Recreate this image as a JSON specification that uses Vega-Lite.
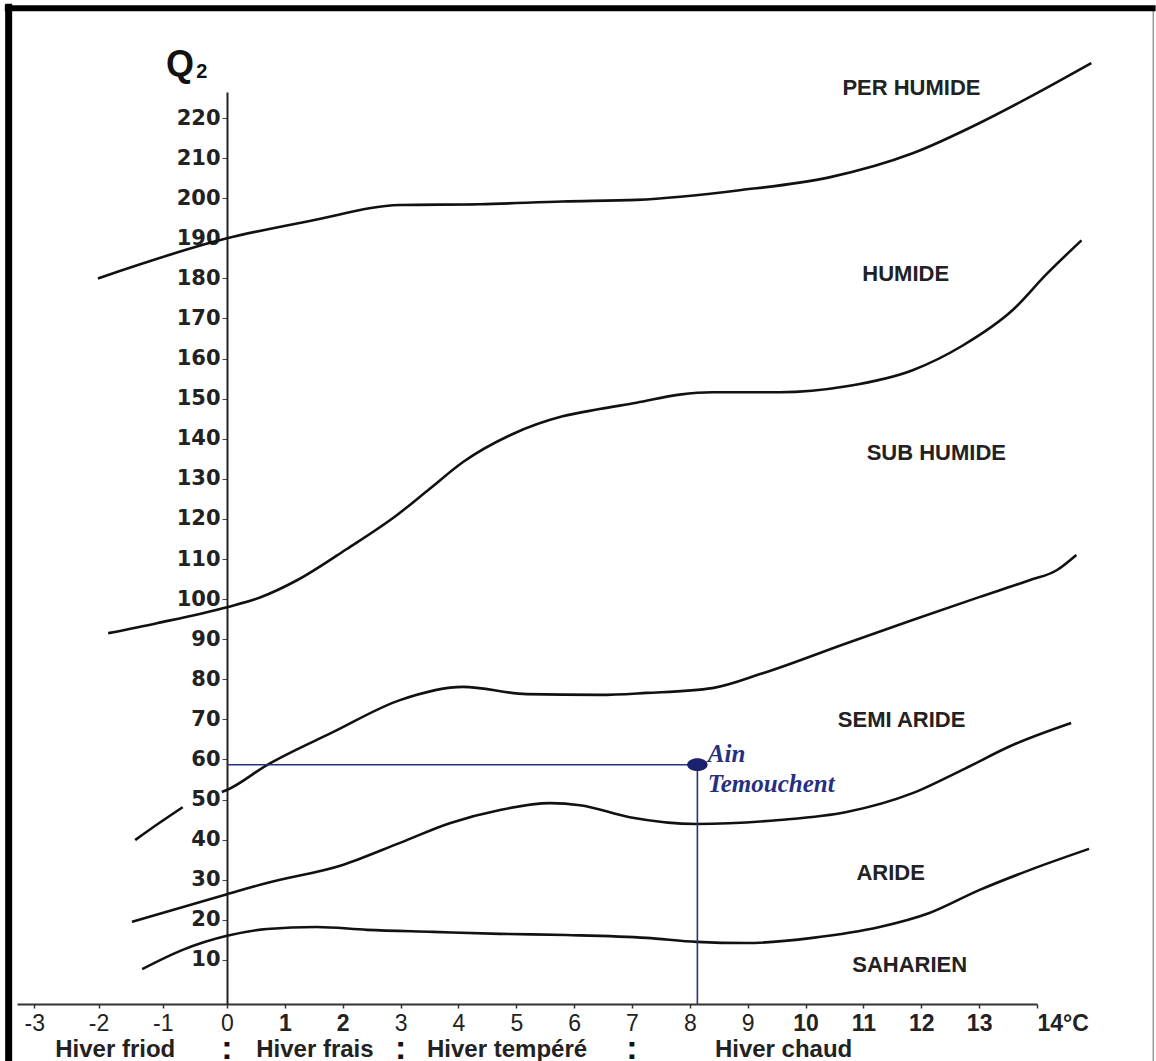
{
  "$schema": "https://vega.github.io/schema/vega-lite/v6.json",
  "width": 1020,
  "height": 912,
  "autosize": {"type": "none"},
  "padding": {"left": 17, "top": 92, "right": 119, "bottom": 57},
  "background": "white",
  "config": {"view": {"stroke": null}},
  "datasets": {
    "curves": [
      {"curve": "c1", "t": -2.01, "q2": 180.0}, {"curve": "c1", "t": 0, "q2": 190.0}, {"curve": "c1", "t": 1.49, "q2": 194.5}, {"curve": "c1", "t": 2.99, "q2": 198.3}, {"curve": "c1", "t": 4.37, "q2": 198.5}, {"curve": "c1", "t": 5.8, "q2": 199.2}, {"curve": "c1", "t": 7.08, "q2": 199.6}, {"curve": "c1", "t": 8.86, "q2": 202.0}, {"curve": "c1", "t": 10.41, "q2": 205.2}, {"curve": "c1", "t": 11.85, "q2": 211.2}, {"curve": "c1", "t": 13.0, "q2": 218.7}, {"curve": "c1", "t": 13.87, "q2": 225.2}, {"curve": "c1", "t": 14.94, "q2": 233.7},
      {"curve": "c2", "t": -1.85, "q2": 91.5}, {"curve": "c2", "t": -1.09, "q2": 94.0}, {"curve": "c2", "t": 0, "q2": 98.0}, {"curve": "c2", "t": 0.57, "q2": 100.4}, {"curve": "c2", "t": 1.21, "q2": 104.7}, {"curve": "c2", "t": 2.07, "q2": 112.5}, {"curve": "c2", "t": 2.94, "q2": 121.0}, {"curve": "c2", "t": 3.51, "q2": 127.6}, {"curve": "c2", "t": 4.08, "q2": 134.2}, {"curve": "c2", "t": 4.94, "q2": 141.2}, {"curve": "c2", "t": 5.8, "q2": 145.6}, {"curve": "c2", "t": 6.44, "q2": 147.4}, {"curve": "c2", "t": 7.08, "q2": 149.0}, {"curve": "c2", "t": 7.82, "q2": 151.0}, {"curve": "c2", "t": 8.39, "q2": 151.6}, {"curve": "c2", "t": 9.55, "q2": 151.6}, {"curve": "c2", "t": 10.71, "q2": 153.1}, {"curve": "c2", "t": 11.85, "q2": 157.1}, {"curve": "c2", "t": 12.71, "q2": 163.2}, {"curve": "c2", "t": 13.58, "q2": 172.1}, {"curve": "c2", "t": 14.16, "q2": 181.0}, {"curve": "c2", "t": 14.77, "q2": 189.5},
      {"curve": "c3a", "t": -1.43, "q2": 39.9}, {"curve": "c3a", "t": -1.05, "q2": 44.2}, {"curve": "c3a", "t": -0.69, "q2": 48.1},
      {"curve": "c3", "t": -0.08, "q2": 51.9}, {"curve": "c3", "t": 0, "q2": 52.4}, {"curve": "c3", "t": 0.69, "q2": 58.6}, {"curve": "c3", "t": 1.83, "q2": 66.8}, {"curve": "c3", "t": 2.99, "q2": 74.8}, {"curve": "c3", "t": 4.08, "q2": 78.1}, {"curve": "c3", "t": 5.18, "q2": 76.3}, {"curve": "c3", "t": 6.44, "q2": 76.1}, {"curve": "c3", "t": 7.25, "q2": 76.6}, {"curve": "c3", "t": 8.39, "q2": 77.8}, {"curve": "c3", "t": 9.26, "q2": 81.5}, {"curve": "c3", "t": 10.71, "q2": 89.0}, {"curve": "c3", "t": 11.85, "q2": 94.8}, {"curve": "c3", "t": 13.0, "q2": 100.5}, {"curve": "c3", "t": 13.87, "q2": 104.7}, {"curve": "c3", "t": 14.34, "q2": 107.2}, {"curve": "c3", "t": 14.68, "q2": 111.0},
      {"curve": "c4", "t": -1.48, "q2": 19.5}, {"curve": "c4", "t": 0, "q2": 26.4}, {"curve": "c4", "t": 0.69, "q2": 29.2}, {"curve": "c4", "t": 2.0, "q2": 33.7}, {"curve": "c4", "t": 2.99, "q2": 39.2}, {"curve": "c4", "t": 3.85, "q2": 44.1}, {"curve": "c4", "t": 4.72, "q2": 47.4}, {"curve": "c4", "t": 5.58, "q2": 49.1}, {"curve": "c4", "t": 6.1, "q2": 48.6}, {"curve": "c4", "t": 6.96, "q2": 45.6}, {"curve": "c4", "t": 8.12, "q2": 43.9}, {"curve": "c4", "t": 9.55, "q2": 44.9}, {"curve": "c4", "t": 10.71, "q2": 46.9}, {"curve": "c4", "t": 11.85, "q2": 51.6}, {"curve": "c4", "t": 12.71, "q2": 57.4}, {"curve": "c4", "t": 13.58, "q2": 63.6}, {"curve": "c4", "t": 14.59, "q2": 69.1},
      {"curve": "c5", "t": -1.32, "q2": 7.7}, {"curve": "c5", "t": -0.69, "q2": 12.5}, {"curve": "c5", "t": 0, "q2": 16.0}, {"curve": "c5", "t": 0.69, "q2": 17.7}, {"curve": "c5", "t": 1.55, "q2": 18.2}, {"curve": "c5", "t": 2.42, "q2": 17.5}, {"curve": "c5", "t": 3.56, "q2": 17.0}, {"curve": "c5", "t": 4.72, "q2": 16.5}, {"curve": "c5", "t": 5.87, "q2": 16.2}, {"curve": "c5", "t": 7.25, "q2": 15.5}, {"curve": "c5", "t": 8.12, "q2": 14.5}, {"curve": "c5", "t": 8.98, "q2": 14.2}, {"curve": "c5", "t": 10.12, "q2": 15.5}, {"curve": "c5", "t": 11.28, "q2": 18.2}, {"curve": "c5", "t": 12.14, "q2": 21.7}, {"curve": "c5", "t": 13.0, "q2": 27.4}, {"curve": "c5", "t": 13.87, "q2": 32.4}, {"curve": "c5", "t": 14.9, "q2": 37.7}
    ],
    "frameV": [
      {"edge": "left", "t": -3.4, "q2": 248.5, "q2b": -20},
      {"edge": "right", "t": 16.01, "q2": 247.4, "q2b": -20}
    ],
    "frameH": [
      {"edge": "top", "t": -3.46, "t2": 16.05, "q2": 247.4}
    ],
    "station": [{"name": "Ain Temouchent", "t": 8.13, "q2": 58.7, "t0": 0, "q0": -1}],
    "stationLabels": [
      {"label": "Ain", "t": 8.31, "q2": 59.4},
      {"label": "Temouchent", "t": 8.31, "q2": 51.9}
    ],
    "zones": [
      {"label": "PER HUMIDE", "t": 11.83, "q2": 225.7},
      {"label": "HUMIDE", "t": 11.73, "q2": 179.3},
      {"label": "SUB HUMIDE", "t": 12.26, "q2": 134.7},
      {"label": "SEMI ARIDE", "t": 11.66, "q2": 68.1},
      {"label": "ARIDE", "t": 11.47, "q2": 29.9},
      {"label": "SAHARIEN", "t": 11.8, "q2": 7.0}
    ],
    "winters": [
      {"label": "Hiver friod", "t": -1.74, "q2": -14.2},
      {"label": "Hiver frais", "t": 1.52, "q2": -14.2},
      {"label": "Hiver tempéré", "t": 4.84, "q2": -14.2},
      {"label": "Hiver chaud", "t": 9.62, "q2": -14.2}
    ],
    "separators": [
      {"label": ":", "t": 0, "q2": -14.6},
      {"label": ":", "t": 3, "q2": -14.6},
      {"label": ":", "t": 7, "q2": -14.6}
    ],
    "title": [
      {"label": "Q", "t": -0.95, "q2": 230.6, "part": "main"},
      {"label": "2", "t": -0.48, "q2": 230.0, "part": "sub"}
    ]
  },
  "encoding": {
    "x": {
      "field": "t", "type": "quantitative",
      "scale": {"type": "linear", "domain": [-3.27, 0, 14], "range": [0, 210, 1020], "zero": false, "nice": false},
      "axis": {
        "title": null, "grid": false,
        "values": [-3, -2, -1, 0, 1, 2, 3, 4, 5, 6, 7, 8, 9, 10, 11, 12, 13, 14],
        "labelExpr": "datum.value == 14 ? '14°C' : '' + datum.value",
        "labelFont": "Liberation Sans", "labelFontSize": 23, "labelColor": "#222",
        "labelFontWeight": {"condition": {"test": "datum.value >= 10 || datum.value == 1 || datum.value == 2", "value": "bold"}, "value": "normal"},
        "labelAlign": {"condition": {"test": "datum.value == 14", "value": "left"}, "value": "center"},
        "labelFlush": false, "labelOverlap": false, "labelPadding": 4,
        "tickSize": 4, "tickColor": "#333", "tickWidth": 1.5,
        "domainColor": "#333", "domainWidth": 2
      }
    },
    "y": {
      "field": "q2", "type": "quantitative",
      "scale": {"domain": [-1, 226.5], "zero": false, "nice": false},
      "axis": {
        "title": null, "grid": false, "orient": "left", "offset": -210,
        "values": [10, 20, 30, 40, 50, 60, 70, 80, 90, 100, 110, 120, 130, 140, 150, 160, 170, 180, 190, 200, 210, 220],
        "labelFont": "DejaVu Sans", "labelFontWeight": "bold", "labelFontSize": 21, "labelColor": "#222",
        "labelPadding": 2, "tickSize": 5, "tickColor": "#444", "tickWidth": 1,
        "domainColor": "#222", "domainWidth": 2
      }
    }
  },
  "layer": [
    {
      "data": {"name": "frameV"},
      "mark": {"type": "rule"},
      "encoding": {
        "y2": {"field": "q2b"},
        "color": {"field": "edge", "type": "nominal", "scale": {"domain": ["left", "right"], "range": ["#000000", "#999999"]}, "legend": null},
        "strokeWidth": {"field": "edge", "type": "nominal", "scale": {"domain": ["left", "right"], "range": [7, 1.5]}, "legend": null}
      }
    },
    {
      "data": {"name": "frameH"},
      "mark": {"type": "rule", "color": "#000000", "strokeWidth": 6},
      "encoding": {"x2": {"field": "t2"}}
    },
    {
      "data": {"name": "curves"},
      "mark": {"type": "line", "color": "#111", "strokeWidth": 2.6, "interpolate": "monotone"},
      "encoding": {"detail": {"field": "curve"}}
    },
    {
      "data": {"name": "station"},
      "mark": {"type": "rule", "color": "#26307f", "strokeWidth": 1.6},
      "encoding": {"x": {"field": "t0", "type": "quantitative"}, "x2": {"field": "t"}}
    },
    {
      "data": {"name": "station"},
      "mark": {"type": "rule", "color": "#26307f", "strokeWidth": 1.6},
      "encoding": {"y2": {"field": "q0"}}
    },
    {
      "data": {"name": "station"},
      "mark": {"type": "point", "filled": true, "color": "#1a2270", "opacity": 1, "size": 420, "shape": "M-1,0A1,0.62,0,1,1,1,0A1,0.62,0,1,1,-1,0Z"}
    },
    {
      "data": {"name": "stationLabels"},
      "mark": {"type": "text", "align": "left", "baseline": "alphabetic", "font": "Liberation Serif", "fontStyle": "italic", "fontWeight": "bold", "fontSize": 25, "color": "#26307f"},
      "encoding": {"text": {"field": "label"}}
    },
    {
      "data": {"name": "zones"},
      "mark": {"type": "text", "align": "center", "baseline": "alphabetic", "font": "Liberation Sans", "fontWeight": "bold", "fontSize": 22, "color": "#222"},
      "encoding": {"text": {"field": "label"}}
    },
    {
      "data": {"name": "winters"},
      "mark": {"type": "text", "align": "center", "baseline": "alphabetic", "font": "Liberation Sans", "fontWeight": "bold", "fontSize": 24, "color": "#222"},
      "encoding": {"text": {"field": "label"}}
    },
    {
      "data": {"name": "separators"},
      "mark": {"type": "text", "align": "center", "baseline": "alphabetic", "font": "Liberation Sans", "fontWeight": "bold", "fontSize": 34, "color": "#111"},
      "encoding": {"text": {"field": "label"}}
    },
    {
      "data": {"name": "title"},
      "mark": {"type": "text", "align": "left", "baseline": "alphabetic", "font": "Liberation Sans", "fontWeight": "bold", "color": "#111"},
      "encoding": {
        "text": {"field": "label"},
        "size": {"field": "part", "type": "nominal", "scale": {"domain": ["main", "sub"], "range": [36, 20]}, "legend": null}
      }
    }
  ]
}
